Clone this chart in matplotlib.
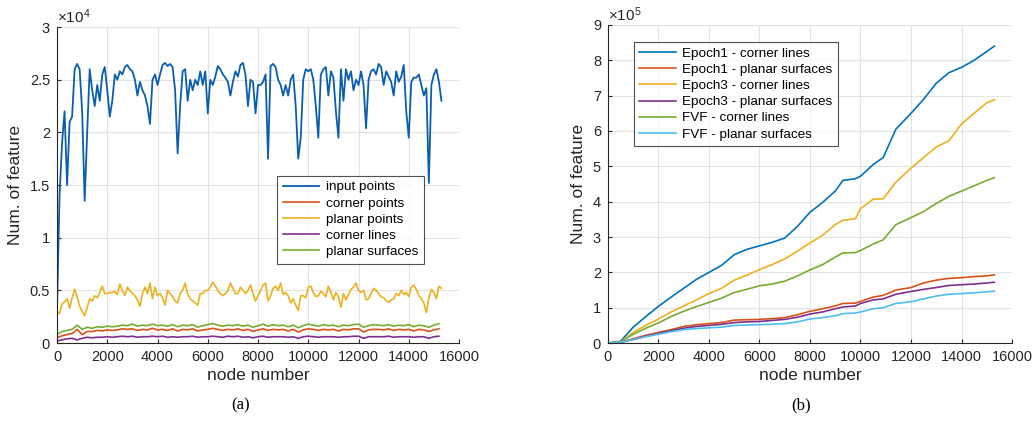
import numpy as np
import matplotlib
matplotlib.use("Agg")
import matplotlib.pyplot as plt

# ---------------- data: panel (a) ----------------
node_a = np.arange(0, 15301, 100)
input_points = [
    3300, 14000, 19000, 22000, 15000, 21000, 21500, 26000, 26500, 26000,
    22000, 13500, 20000, 26000, 24000, 22500, 24500, 23000, 25500, 26200,
    24000, 21500, 23000, 25500, 25000, 25800, 25500, 26200, 26400, 26000,
    25800, 25000, 23500, 24800, 24000, 23500, 22500, 20800, 25000, 25500,
    24500, 25500, 26400, 26600, 26300, 26500, 26200, 24000, 18000, 22500,
    25800, 26000, 23000, 25000, 24000, 25000, 24500, 25800, 24500, 25800,
    21800, 25000, 24500, 25300, 26300, 26000, 25500, 25200, 24800, 23500,
    24800, 25800, 25300, 26400, 26600, 25500, 22500, 25000, 24800, 21800,
    24500, 24500, 24800, 25500, 17500, 26300, 26500, 26200, 25000, 24500,
    23500, 24500, 23500, 25000, 25500, 22500, 17500, 19500, 25000, 26000,
    25800, 26000, 25000, 22500, 19500, 25500, 26000, 26200, 23500, 25800,
    25200, 22000, 19500, 26000, 23000, 26000, 25000, 25800, 24000, 25000,
    24500, 25800, 24500, 20400, 25000, 25800, 26000, 25500, 26500, 26200,
    24500, 25800, 25300, 24800, 23500, 25800, 24800, 25300, 26400, 22000,
    19500, 24800, 25200, 25200, 25500, 24500, 23500, 24200, 15200, 24500,
    25500, 26000, 24800, 23000]
planar_points = [
    3000, 2800, 3700, 3900, 4200, 3300, 4300, 5100, 4400, 3500,
    3000, 2600, 3400, 4200, 4000, 4500, 4300, 4800, 5400, 4700,
    4700, 4800, 4800, 4900, 4600, 5600, 5000, 4500, 5300, 5000,
    4700, 4500, 4100, 3500, 4700, 5300, 4700, 5700, 4200, 5300,
    4500, 4700, 4300, 3600, 5000, 4700, 4400, 4000, 3800, 4700,
    5000, 5700, 4700, 4200, 4000, 3800, 3600, 4700, 4700, 5000,
    5000, 5300, 5800, 5400, 5000, 4700, 4500, 4700, 5000, 5700,
    5200, 4700, 4700, 5300, 5000, 4700, 5000, 5500, 4700, 4000,
    4500, 5000, 5500, 5700, 4000, 4500, 5200, 5400, 5000, 5700,
    4600, 4800, 4500, 3800, 4200, 3600, 3100, 4500, 4500, 4300,
    5300, 5400, 4800, 4400, 4500, 4900, 4700, 4400, 5400, 4800,
    4100, 4800, 4400, 3400, 4700, 4100, 4600, 5100, 5300, 5700,
    5000, 4800, 5000, 4100, 4200, 4700, 5200, 5000, 4700, 4400,
    4300, 4000, 3900, 4100, 4200, 4700, 4500, 5000, 4600, 4800,
    4400, 5300, 5500, 5100, 4500, 4200, 3800, 2900, 4300, 5100,
    4800, 4200, 5400, 5200]

node_a2 = np.arange(0, 15201, 200)
planar_surfaces = [
    800, 1100, 1200, 1300, 1700, 1300, 1500, 1400, 1550, 1500,
    1600, 1550, 1600, 1700, 1650, 1800, 1600, 1700, 1650, 1800,
    1650, 1700, 1600, 1750, 1550, 1700, 1650, 1750, 1500, 1650,
    1750, 1850, 1700, 1600, 1700, 1650, 1750, 1600, 1700, 1500,
    1650, 1800, 1600, 1750, 1650, 1700, 1550, 1700, 1450, 1650,
    1800, 1700, 1600, 1750, 1650, 1700, 1550, 1700, 1650, 1750,
    1800, 1500, 1650, 1750, 1700, 1650, 1750, 1600, 1700, 1650,
    1750, 1550, 1700, 1650, 1500, 1700, 1850]
corner_points = [
    500, 700, 800, 900, 1300, 800, 1100, 1100, 1200, 1150,
    1250, 1200, 1250, 1350, 1300, 1350, 1200, 1300, 1250, 1400,
    1250, 1300, 1200, 1350, 1150, 1300, 1250, 1350, 1150, 1250,
    1300, 1400, 1300, 1200, 1300, 1250, 1350, 1200, 1300, 1100,
    1250, 1350, 1200, 1300, 1250, 1300, 1150, 1300, 1050, 1250,
    1350, 1300, 1200, 1300, 1250, 1300, 1150, 1300, 1250, 1350,
    1350, 1050, 1250, 1300, 1300, 1250, 1350, 1200, 1300, 1250,
    1300, 1150, 1300, 1250, 1100, 1250, 1350]
corner_lines = [
    200, 300, 400, 450, 300, 450, 550, 500, 550, 550,
    600, 550, 600, 650, 600, 650, 550, 600, 600, 650,
    600, 650, 550, 600, 550, 600, 600, 650, 550, 600,
    600, 650, 600, 550, 650, 600, 650, 550, 600, 500,
    600, 650, 550, 600, 600, 600, 550, 600, 450, 600,
    650, 600, 550, 600, 600, 600, 550, 600, 600, 650,
    650, 450, 600, 600, 600, 600, 650, 550, 600, 600,
    600, 550, 600, 600, 450, 600, 650]

# ---------------- data: panel (b) ----------------
node_b = [0, 500, 1000, 1500, 2000, 2500, 3000, 3500, 4000, 4500, 5000, 5500,
          6000, 6500, 7000, 7500, 8000, 8500, 9000, 9300, 9800, 10000, 10500,
          10900, 11400, 12000, 12500, 13000, 13500, 14000, 14500, 15000, 15300]
e1_corner = [0, 5000, 45000, 75000, 104000, 130000, 155000, 180000, 200000, 220000,
             250000, 265000, 275000, 285000, 297000, 330000, 370000, 398000, 430000,
             460000, 465000, 472000, 505000, 525000, 605000, 650000, 690000, 735000,
             765000, 780000, 800000, 825000, 840000]
e1_planar = [0, 2000, 12000, 22000, 30000, 38000, 47000, 52000, 55000, 58000,
             65000, 66000, 67000, 69000, 72000, 80000, 90000, 97000, 105000,
             112000, 113000, 118000, 130000, 135000, 150000, 157000, 170000,
             178000, 183000, 185000, 188000, 190000, 193000]
e3_corner = [0, 3000, 30000, 50000, 68000, 88000, 105000, 122000, 140000, 155000,
             178000, 192000, 208000, 222000, 238000, 260000, 283000, 305000, 335000,
             347000, 352000, 380000, 407000, 408000, 455000, 495000, 525000, 555000,
             572000, 620000, 650000, 680000, 688000]
e3_planar = [0, 2000, 10000, 19000, 27000, 35000, 42000, 47000, 50000, 53000,
             58000, 60000, 61000, 64000, 67000, 73000, 82000, 88000, 97000, 102000,
             105000, 112000, 122000, 125000, 138000, 146000, 152000, 157000, 163000,
             165000, 167000, 170000, 172000]
fvf_corner = [0, 3000, 25000, 42000, 57000, 75000, 90000, 103000, 115000, 127000,
              143000, 152000, 162000, 167000, 175000, 190000, 207000, 222000, 243000,
              255000, 256000, 262000, 280000, 292000, 335000, 355000, 372000, 395000,
              415000, 430000, 445000, 460000, 468000]
fvf_planar = [0, 2000, 10000, 18000, 25000, 32000, 38000, 41000, 43000, 45000,
              50000, 51000, 52000, 53000, 55000, 60000, 68000, 72000, 77000, 83000,
              85000, 88000, 97000, 100000, 112000, 117000, 125000, 133000, 138000,
              140000, 142000, 145000, 147000]

xticks = [0, 2000, 4000, 6000, 8000, 10000, 12000, 14000, 16000]
yticks_a = [0, 5000, 10000, 15000, 20000, 25000, 30000]
ylabels_a = ['0', '0.5', '1', '1.5', '2', '2.5', '3']
yticks_b = [0, 100000, 200000, 300000, 400000, 500000, 600000, 700000, 800000, 900000]
ylabels_b = ['0', '1', '2', '3', '4', '5', '6', '7', '8', '9']

C_BLUE = '#0072BD'
C_BLUE_A = '#0A5EAE'
C_RED = '#D95319'
C_YEL = '#EDB120'
C_PUR = '#7E2F8E'
C_GRN = '#77AC30'
C_CYA = '#4DBEEE'
TXT = '#262626'

plt.rcParams['font.family'] = ['Liberation Sans', 'DejaVu Sans']
plt.rcParams['mathtext.fontset'] = 'custom'
plt.rcParams['mathtext.rm'] = 'Liberation Sans'
plt.rcParams['mathtext.it'] = 'Liberation Sans:italic'
plt.rcParams['mathtext.bf'] = 'Liberation Sans:bold'
fig = plt.figure(figsize=(10.35, 4.23), dpi=100)
axA = fig.add_axes([0.0551, 0.189, 0.3884, 0.747])
axB = fig.add_axes([0.5874, 0.189, 0.3904, 0.752])


def style(ax, yticks, ylabels, ymax, exp):
    ax.set_xlim(0, 16000)
    ax.set_ylim(0, ymax)
    ax.set_xticks(xticks)
    ax.set_xticklabels([str(v) for v in xticks])
    ax.set_yticks(yticks)
    ax.set_yticklabels(ylabels)
    ax.grid(True, color='#e3e3e3', lw=0.8)
    ax.set_axisbelow(True)
    for s in ['top', 'right']:
        ax.spines[s].set_visible(False)
    for s in ['left', 'bottom']:
        ax.spines[s].set_color(TXT)
        ax.spines[s].set_linewidth(0.8)
    ax.tick_params(direction='in', length=3, labelsize=10.5, colors=TXT, pad=5)
    ax.set_xlabel('node number', fontsize=12.5, color=TXT, labelpad=3)
    ax.set_ylabel('Num. of feature', fontsize=12.5, color=TXT, labelpad=5)
    ax.text(0.0, 1.004, r'$\mathregular{\times10^{%d}}$' % exp,
            transform=ax.transAxes, fontsize=11, color=TXT,
            ha='left', va='bottom')


axA.plot(node_a, input_points, color=C_BLUE_A, lw=1.3, label='input points')
axA.plot(node_a2, corner_points, color=C_RED, lw=1.2, label='corner points')
axA.plot(node_a, planar_points, color=C_YEL, lw=1.2, label='planar points')
axA.plot(node_a2, corner_lines, color=C_PUR, lw=1.2, label='corner lines')
axA.plot(node_a2, planar_surfaces, color=C_GRN, lw=1.2, label='planar surfaces')
style(axA, yticks_a, ylabels_a, 30000, 4)
legA = axA.legend(loc='upper left', bbox_to_anchor=(0.548, 0.53), fontsize=9.7,
                  frameon=True, fancybox=False, edgecolor=TXT,
                  handlelength=2.7, borderpad=0.4, labelspacing=0.28,
                  handletextpad=0.5, borderaxespad=0)
legA.get_frame().set_linewidth(0.8)

axB.plot(node_b, e1_corner, color=C_BLUE, lw=1.2, label='Epoch1 - corner lines')
axB.plot(node_b, e1_planar, color=C_RED, lw=1.2, label='Epoch1 - planar surfaces')
axB.plot(node_b, e3_corner, color=C_YEL, lw=1.2, label='Epoch3 - corner lines')
axB.plot(node_b, e3_planar, color=C_PUR, lw=1.2, label='Epoch3 - planar surfaces')
axB.plot(node_b, fvf_corner, color=C_GRN, lw=1.2, label='FVF - corner lines')
axB.plot(node_b, fvf_planar, color=C_CYA, lw=1.2, label='FVF - planar surfaces')
style(axB, yticks_b, ylabels_b, 900000, 5)
legB = axB.legend(loc='upper left', bbox_to_anchor=(0.064, 0.947), fontsize=9.7,
                  frameon=True, fancybox=False, edgecolor=TXT,
                  handlelength=2.7, borderpad=0.4, labelspacing=0.28,
                  handletextpad=0.5, borderaxespad=0)
legB.get_frame().set_linewidth(0.8)

fig.text(0.232, 0.032, '(a)', family='Liberation Serif', fontsize=12, ha='center')
fig.text(0.774, 0.032, '(b)', family='Liberation Serif', fontsize=12, ha='center')

fig.savefig('out.png', dpi=100)
